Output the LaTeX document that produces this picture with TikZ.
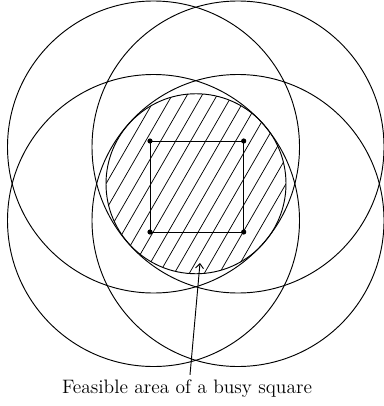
\documentclass[tikz,border=0pt]{standalone}
\usepackage{tikz}
\usetikzlibrary{arrows.meta}

\begin{document}
\begin{tikzpicture}[x=0.75pt,y=-0.75pt,line width=0.7pt]
			\useasboundingbox (0,0) rectangle (384,406);
			% four large circles
			\foreach \x/\y in {
				153.5/147,
				238/147,
				153.5/220.5,
				238/220.5
			}{
				\draw (\x,\y) circle (146);
			}
			% hatched circle
			\coordinate (c) at (196,183.75);
			\draw (c) circle (90);
			\begin{scope}
				\clip (c) circle (90);
				\foreach \i in {-9,...,9}{
					\draw[line width=0.55pt] (136+15*\i,287.75) -- (256+15*\i,79.75);
				}
			\end{scope}
			% the square
			\coordinate (a1) at (150,141);
			\coordinate (a2) at (243.7,141);
			\coordinate (a3) at (243.7,232);
			\coordinate (a4) at (150,232);
			\draw (a1) -- (a2) -- (a3) -- (a4) -- cycle;
			\foreach \p in {a1,a2,a3,a4}{
				\fill (\p) circle (2.6);
			}
			% label
			\node[anchor=base,inner sep=1pt,font=\fontsize{14.6}{17}\selectfont] (lbl) at (187,393) {Feasible area of a busy square};
			\coordinate (tip) at (200,263);
			\draw[-{Straight Barb[length=3.5pt,width=6pt]}] ([xshift=2.25pt,yshift=2pt]lbl.north) -- (tip);
		\end{tikzpicture}
\end{document}
